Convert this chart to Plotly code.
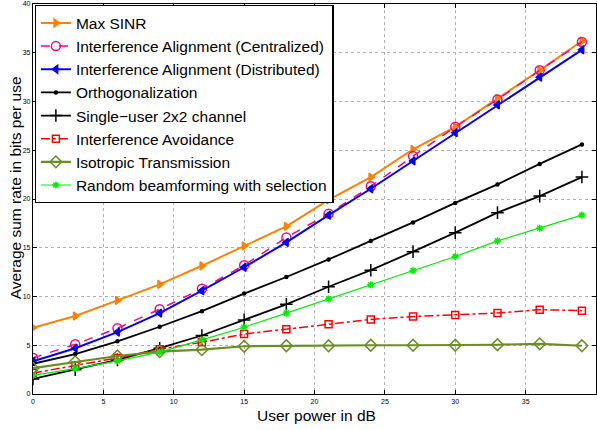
import plotly.graph_objects as go

power_db = [0, 3, 6, 9, 12, 15, 18, 21, 24, 27, 30, 33, 36, 39]

max_sinr = [6.8, 8.0, 9.6, 11.25, 13.15, 15.2, 17.2, 19.9, 22.25, 25.1, 27.4, 30.3, 33.2, 36.2]
ia_centralized = [3.7, 5.1, 6.75, 8.7, 10.8, 13.2, 16.05, 18.5, 21.3, 24.4, 27.4, 30.2, 33.2, 36.1]
ia_distributed = [3.35, 4.7, 6.35, 8.3, 10.6, 13.0, 15.55, 18.35, 21.05, 23.9, 26.8, 29.65, 32.5, 35.3]
orthogonalization = [3.1, 4.1, 5.4, 6.9, 8.5, 10.3, 12.0, 13.8, 15.7, 17.6, 19.6, 21.5, 23.6, 25.6]
single_user = [1.55, 2.5, 3.5, 4.7, 6.0, 7.6, 9.2, 11.0, 12.7, 14.6, 16.55, 18.6, 20.3, 22.25]
interference_avoidance = [2.15, 2.9, 3.7, 4.6, 5.3, 6.15, 6.65, 7.15, 7.65, 7.95, 8.1, 8.3, 8.65, 8.55]
isotropic = [2.65, 3.3, 3.9, 4.35, 4.55, 4.9, 4.95, 4.95, 5.0, 5.0, 5.0, 5.05, 5.15, 4.95]
random_bf = [1.9, 2.6, 3.4, 4.3, 5.55, 6.85, 8.3, 9.75, 11.2, 12.65, 14.1, 15.7, 17.0, 18.35]

x_title = "User power in dB"
y_title = "Average sum rate in bits per use"

names = [
    "Max SINR",
    "Interference Alignment (Centralized)",
    "Interference Alignment (Distributed)",
    "Orthogonalization",
    "Single\u2212user 2x2 channel",
    "Interference Avoidance",
    "Isotropic Transmission",
    "Random beamforming with selection",
]

styles = [
    dict(color="#FF8000", dash="solid", width=2, symbol="triangle-right", msize=7),
    dict(color="#FF0080", dash="dash", width=1.5, symbol="circle-open", msize=9),
    dict(color="#0000FF", dash="solid", width=2, symbol="triangle-left", msize=7),
    dict(color="#000000", dash="solid", width=1.8, symbol="circle", msize=3),
    dict(color="#000000", dash="solid", width=1.8, symbol="cross-thin-open", msize=9),
    dict(color="#FF0000", dash="dashdot", width=1.5, symbol="square-open", msize=7),
    dict(color="#6B8E23", dash="solid", width=2.2, symbol="diamond-open", msize=9),
    dict(color="#00EE00", dash="solid", width=1.2, symbol="asterisk-open", msize=6),
]

series = [max_sinr, ia_centralized, ia_distributed, orthogonalization,
          single_user, interference_avoidance, isotropic, random_bf]

FONT = "Liberation Sans, Arial, sans-serif"

fig = go.Figure()
for name, ys, st in zip(names, series, styles):
    fig.add_trace(go.Scatter(
        x=power_db, y=ys, name=name, mode="lines+markers",
        line=dict(color=st["color"], dash=st["dash"], width=st["width"]),
        marker=dict(symbol=st["symbol"], size=st["msize"], color=st["color"],
                    line=dict(color=st["color"], width=1.5)),
    ))

axis_common = dict(
    showgrid=True, gridcolor="#b0b0b0", griddash="dot", gridwidth=1,
    showline=True, linecolor="black", linewidth=1.2, mirror="ticks",
    ticks="inside", ticklen=4, tickcolor="black", zeroline=False,
    automargin=False,
    tickfont=dict(family=FONT, size=7, color="black"),
)

fig.update_xaxes(range=[0, 40], dtick=5, tick0=0, **axis_common)
fig.update_yaxes(range=[0, 40], dtick=5, tick0=0, **axis_common)

fig.add_annotation(text=x_title, xref="paper", yref="paper", x=0.503, y=-0.054,
                   xanchor="center", yanchor="middle", showarrow=False,
                   font=dict(family=FONT, size=15.5, color="black"))
fig.add_annotation(text=y_title, xref="paper", yref="paper", x=-0.032, y=0.53,
                   xanchor="center", yanchor="middle", showarrow=False, textangle=-90,
                   font=dict(family=FONT, size=15.5, color="black"))

fig.update_layout(
    width=597, height=430,
    margin=dict(l=33, r=1, t=4, b=36, autoexpand=False),
    paper_bgcolor="white", plot_bgcolor="white",
    showlegend=True,
    legend=dict(x=0.003, y=0.997, xanchor="left", yanchor="top",
                bgcolor="white", bordercolor="black", borderwidth=1.2,
                font=dict(family=FONT, size=15.5, color="black"),
                itemwidth=30, tracegroupgap=0),
)

fig.write_html("out.html", config={"displayModeBar": False},
               post_script="document.body.style.margin='0';document.body.style.overflow='hidden';")
